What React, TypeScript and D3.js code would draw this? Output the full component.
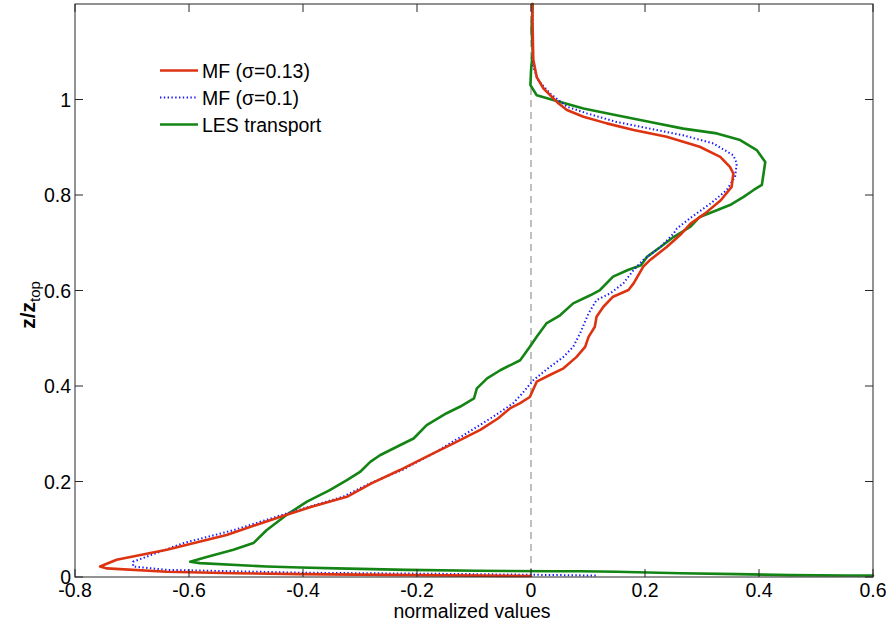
import React from "react";
import * as d3 from "d3";

const xTicks = [-0.8, -0.6, -0.4, -0.2, 0, 0.2, 0.4, 0.6];
const yTicks = [0, 0.2, 0.4, 0.6, 0.8, 1];
const seriesNames = ["MF (σ=0.13)", "MF (σ=0.1)", "LES transport"];

// MF (sigma = 0.13)
const mf13Z = [1.2, 1.083, 1.047, 1.023, 0.992, 0.978, 0.964, 0.950, 0.936, 0.922, 0.901, 0.880, 0.859, 0.845, 0.817, 0.789, 0.761, 0.740, 0.719, 0.691, 0.664, 0.650, 0.615, 0.601, 0.587, 0.566, 0.545, 0.524, 0.503, 0.482, 0.461, 0.437, 0.423, 0.409, 0.377, 0.364, 0.353, 0.332, 0.308, 0.280, 0.252, 0.224, 0.196, 0.168, 0.147, 0.130, 0.110, 0.088, 0.057, 0.036, 0.022, 0.018, 0.011, 0.008, 0.006, 0.004, 0.002];
const mf13X = [0.002, 0.004, 0.010, 0.022, 0.048, 0.063, 0.092, 0.133, 0.180, 0.238, 0.296, 0.332, 0.349, 0.355, 0.352, 0.333, 0.305, 0.280, 0.264, 0.238, 0.209, 0.197, 0.180, 0.171, 0.144, 0.127, 0.115, 0.112, 0.101, 0.095, 0.080, 0.057, 0.033, 0.010, -0.002, -0.019, -0.037, -0.058, -0.089, -0.136, -0.183, -0.230, -0.280, -0.323, -0.385, -0.430, -0.480, -0.534, -0.639, -0.727, -0.756, -0.744, -0.639, -0.522, -0.405, -0.200, 0.0];

// MF (sigma = 0.1)
const mf10Z = [1.2, 1.068, 1.040, 1.013, 0.985, 0.971, 0.953, 0.939, 0.925, 0.908, 0.883, 0.866, 0.838, 0.810, 0.784, 0.754, 0.730, 0.719, 0.691, 0.664, 0.643, 0.615, 0.594, 0.580, 0.552, 0.510, 0.482, 0.461, 0.440, 0.412, 0.385, 0.364, 0.336, 0.301, 0.259, 0.224, 0.196, 0.168, 0.133, 0.098, 0.071, 0.032, 0.022, 0.015, 0.009, 0.006, 0.004, 0.003];
const mf10X = [0.002, 0.004, 0.013, 0.033, 0.063, 0.098, 0.150, 0.209, 0.267, 0.320, 0.355, 0.361, 0.358, 0.343, 0.317, 0.282, 0.256, 0.250, 0.227, 0.197, 0.180, 0.162, 0.139, 0.115, 0.101, 0.086, 0.074, 0.057, 0.033, 0.004, -0.015, -0.031, -0.066, -0.113, -0.171, -0.226, -0.283, -0.330, -0.429, -0.522, -0.610, -0.698, -0.698, -0.639, -0.405, -0.100, 0.050, 0.118];

// LES transport
const lesZ = [1.2, 1.15, 1.10, 1.06, 1.030, 1.009, 0.999, 0.981, 0.967, 0.953, 0.939, 0.929, 0.915, 0.894, 0.869, 0.845, 0.821, 0.810, 0.796, 0.779, 0.768, 0.754, 0.733, 0.712, 0.691, 0.671, 0.653, 0.643, 0.629, 0.601, 0.590, 0.573, 0.548, 0.531, 0.503, 0.482, 0.454, 0.433, 0.416, 0.395, 0.374, 0.357, 0.343, 0.318, 0.290, 0.276, 0.255, 0.241, 0.220, 0.203, 0.182, 0.158, 0.130, 0.098, 0.071, 0.057, 0.042, 0.032, 0.029, 0.022, 0.020, 0.018, 0.015, 0.013, 0.012, 0.012, 0.011, 0.008, 0.006, 0.004, 0.003, 0.003];
const lesX = [0.003, 0.001, 0.003, 0.000, -0.001, 0.010, 0.039, 0.092, 0.150, 0.209, 0.267, 0.326, 0.367, 0.396, 0.411, 0.408, 0.405, 0.390, 0.373, 0.349, 0.326, 0.296, 0.279, 0.250, 0.227, 0.204, 0.193, 0.170, 0.144, 0.121, 0.104, 0.074, 0.051, 0.027, 0.010, -0.002, -0.019, -0.054, -0.077, -0.095, -0.100, -0.124, -0.148, -0.183, -0.206, -0.230, -0.265, -0.282, -0.300, -0.323, -0.353, -0.393, -0.429, -0.464, -0.487, -0.522, -0.569, -0.598, -0.581, -0.464, -0.405, -0.341, -0.218, -0.095, 0.039, 0.086, 0.150, 0.262, 0.361, 0.455, 0.554, 0.600];

const W = 886;
const H = 624;
const M = { left: 75, top: 4, right: 873, bottom: 577 };
const FONT = "Arial, 'Liberation Sans', Helvetica, sans-serif";
const AXIS = "#262626";

export default function App() {
  const x = d3.scaleLinear().domain([-0.8, 0.6]).range([M.left, M.right]);
  const y = d3.scaleLinear().domain([0, 1.2]).range([M.bottom, M.top]);
  const line = d3
    .line<[number, number]>()
    .x((d) => x(d[0]))
    .y((d) => y(d[1]));
  const pts = (xs: number[], zs: number[]) => xs.map((v, i) => [v, zs[i]] as [number, number]);

  const series = [
    { name: seriesNames[0], d: line(pts(mf13X, mf13Z)), color: "#dd3311", width: 2.6, dash: undefined },
    { name: seriesNames[1], d: line(pts(mf10X, mf10Z)), color: "#1a1aff", width: 2, dash: "1.4,2.4" },
    { name: seriesNames[2], d: line(pts(lesX, lesZ)), color: "#148414", width: 2.6, dash: undefined },
  ];
  const drawOrder = [2, 1, 0];
  const tickLen = 8;

  return (
    <svg width={W} height={H} style={{ position: "absolute", left: 0, top: 0, background: "#fff" }} fontFamily={FONT}>
      <rect x={0} y={0} width={W} height={H} fill="#fff" />
      <line x1={x(0)} x2={x(0)} y1={M.top} y2={M.bottom} stroke="#b0b0b0" strokeWidth={1.6} strokeDasharray="7,5" />
      {drawOrder.map((i) => (
        <path key={i} d={series[i].d || ""} fill="none" stroke={series[i].color} strokeWidth={series[i].width}
          strokeDasharray={series[i].dash} strokeLinejoin="round" strokeLinecap={series[i].dash ? "butt" : "round"} />
      ))}
      <rect x={M.left} y={M.top} width={M.right - M.left} height={M.bottom - M.top} fill="none" stroke={AXIS} strokeWidth={1} />
      {xTicks.map((t) => (
        <g key={"x" + t}>
          <line x1={x(t)} x2={x(t)} y1={M.bottom} y2={M.bottom - tickLen} stroke={AXIS} />
          <line x1={x(t)} x2={x(t)} y1={M.top} y2={M.top + tickLen} stroke={AXIS} />
          <text x={x(t)} y={597} textAnchor="middle" fontSize={19.5} fill="#000">{String(t)}</text>
        </g>
      ))}
      {yTicks.map((t) => (
        <g key={"y" + t}>
          <line x1={M.left} x2={M.left + tickLen} y1={y(t)} y2={y(t)} stroke={AXIS} />
          <line x1={M.right} x2={M.right - tickLen} y1={y(t)} y2={y(t)} stroke={AXIS} />
          <text x={71} y={y(t) + 7} textAnchor="end" fontSize={19.5} fill="#000">{String(t)}</text>
        </g>
      ))}
      <text x={472} y={618} textAnchor="middle" fontSize={19.5} fill="#000">normalized values</text>
      <text transform="translate(35,305) rotate(-90)" textAnchor="middle" fill="#000">
        <tspan fontSize={21} fontWeight="bold">z/z</tspan>
        <tspan fontSize={15} dy={5}>top</tspan>
      </text>
      {series.map((s, i) => {
        const ly = 70.5 + i * 27;
        return (
          <g key={"leg" + i}>
            <line x1={160} x2={198} y1={ly} y2={ly} stroke={s.color} strokeWidth={s.width} strokeDasharray={s.dash} />
            <text x={202} y={ly + 7} fontSize={19.5} fill="#000">{s.name}</text>
          </g>
        );
      })}
    </svg>
  );
}
